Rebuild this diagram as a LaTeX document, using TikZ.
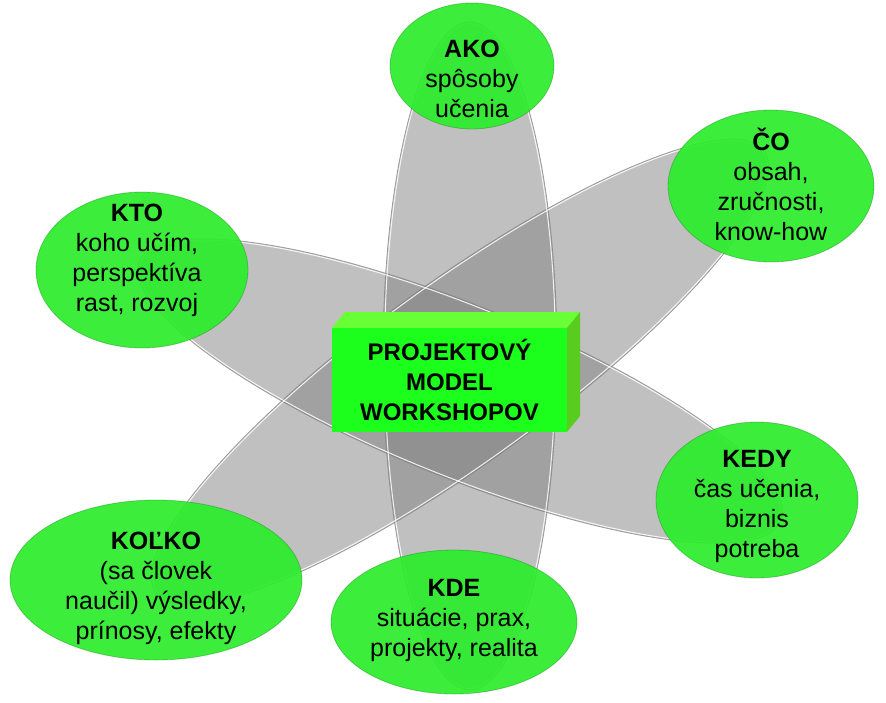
\documentclass[tikz,border=0pt]{standalone}
\usepackage{fontspec}
\setmainfont{Liberation Sans}

\definecolor{leafgreen}{RGB}{45,236,45}
\definecolor{boxfront}{RGB}{28,255,28}
\definecolor{boxtop}{RGB}{105,255,55}
\definecolor{boxside}{RGB}{88,205,32}
\definecolor{petalgrey}{RGB}{130,130,130}

\tikzset{
	greenoval/.style={fill=leafgreen, fill opacity=0.93, draw=green!40!black, draw opacity=0.3, line width=0.8pt},
	greyoval/.style={fill=petalgrey, fill opacity=0.5, draw=gray, draw opacity=0.7, line width=0.8pt},
	glint/.style={draw=white, draw opacity=0.85, line width=1pt},
	topic/.style={align=center, inner sep=0pt, font=\fontsize{25}{30}\selectfont},
	boxtext/.style={align=center, inner sep=0pt, font=\bfseries\fontsize{24}{30}\selectfont},
}

\begin{document}
\begin{tikzpicture}[x=1pt, y=-1pt]
	\useasboundingbox (0,0) rectangle (886,702);

	% the three grey petals
	\draw[greyoval] (470,356) ellipse [x radius=87, y radius=334];
	\draw[greyoval, rotate around={-22:(460,391)}] (460,391) ellipse [x radius=346, y radius=86];
	\draw[greyoval, rotate around={36:(460,372)}] (460,372) ellipse [x radius=376, y radius=90];
	% white shine just inside the rims
	\draw[glint] (470,356) ellipse [x radius=85.5, y radius=332.5];
	\draw[glint, rotate around={-22:(460,391)}] (460,391) ellipse [x radius=344.5, y radius=84.5];
	\draw[glint, rotate around={36:(460,372)}] (460,372) ellipse [x radius=374.5, y radius=88.5];

	% the box in the middle
	\fill[boxtop]  (332,328) -- (345,312) -- (580,312) -- (567,328) -- cycle;
	\fill[boxside] (567,328) -- (580,312) -- (580,416) -- (567,432) -- cycle;
	\fill[boxfront] (332,328) rectangle (567,432);
	\node[boxtext] (model) at (449.5,380) {PROJEKTOVÝ\\MODEL\\WORKSHOPOV};

	% green ovals
	\draw[greenoval] (472,66) ellipse [x radius=82, y radius=63];
	\draw[greenoval] (771,186) ellipse [x radius=103, y radius=76];
	\draw[greenoval] (142,270) ellipse [x radius=106, y radius=78];
	\draw[greenoval] (757,500) ellipse [x radius=101, y radius=78];
	\draw[greenoval] (454,622) ellipse [x radius=123, y radius=72];
	\draw[greenoval] (156,580) ellipse [x radius=146, y radius=80];

	\node[topic] (ako)   at (472,79)  {\textbf{AKO}\\spôsoby\\učenia};
	\node[topic] (co)    at (771,184) {\textbf{ČO}\\obsah,\\zručnosti,\\know-how};
	\node[topic] (kto)   at (137,260) {\textbf{KTO}\\koho učím,\\perspektíva\\rast, rozvoj};
	\node[topic] (kedy)  at (757,506) {\textbf{KEDY}\\čas učenia,\\biznis\\potreba};
	\node[topic] (kde)   at (454,620) {\textbf{KDE}\\situácie, prax,\\projekty, realita};
	\node[topic] (kolko) at (156,588) {\textbf{KOĽKO}\\(sa človek\\naučil) výsledky,\\prínosy, efekty};

\end{tikzpicture}
\end{document}
